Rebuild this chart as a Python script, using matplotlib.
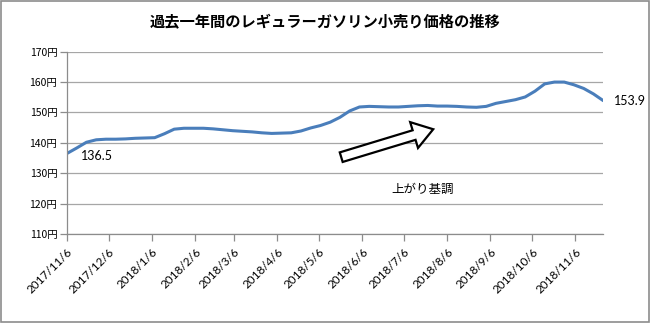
import matplotlib
matplotlib.use("Agg")
import matplotlib.pyplot as plt
import numpy as np
import pandas as pd
from matplotlib.patches import FancyArrowPatch, Rectangle

plt.rcParams['font.family'] = ['Noto Sans CJK JP', 'DejaVu Sans']

# weekly retail price of regular gasoline (yen / litre)
dates = pd.date_range('2017-11-06', periods=56, freq='7D')
prices = [136.5, 138.3, 140.2, 141.0, 141.2, 141.2, 141.3, 141.5, 141.6, 141.7,
          143.0, 144.5, 144.8, 144.8, 144.8, 144.6, 144.3, 144.0, 143.8, 143.6,
          143.3, 143.1, 143.2, 143.3, 143.9, 144.9, 145.7, 146.8, 148.4, 150.5,
          151.8, 152.0, 151.9, 151.8, 151.8, 152.0, 152.2, 152.3, 152.1, 152.1,
          152.0, 151.8, 151.7, 152.0, 153.0, 153.6, 154.2, 155.1, 157.0, 159.4,
          160.0, 160.0, 159.1, 157.9, 156.1, 153.9]

month_ticks = [pd.Timestamp('2017-11-06') + pd.DateOffset(months=i) for i in range(13)]
tick_labels = [f'{d.year}/{d.month}/{d.day}' for d in month_ticks]
y_ticks = list(range(110, 171, 10))

title = '過去一年間のレギュラーガソリン小売り価格の推移'
note = '上がり基調'

fig = plt.figure(figsize=(6.5, 3.23), dpi=100)
ax = fig.add_axes([0.103, 0.2755, 0.825, 0.5645])

ax.plot(dates, prices, color='#4a7ebb', lw=2.2, solid_capstyle='round')

ax.set_xlim(dates[0], dates[-1])
ax.set_ylim(110, 170)
ax.set_yticks(y_ticks)
ax.set_yticklabels([f'{v}円' for v in y_ticks], fontsize=7.5)
ax.set_xticks(month_ticks)
ax.set_xticklabels(tick_labels, rotation=45, ha='right', rotation_mode='anchor',
                   fontsize=8.5, family=['Lato', 'DejaVu Sans'])

ax.grid(axis='y', color='#a6a6a6', lw=0.9)
ax.set_axisbelow(True)
for side in ['top', 'right']:
    ax.spines[side].set_visible(False)
for side in ['left', 'bottom']:
    ax.spines[side].set_color('#8c8c8c')
    ax.spines[side].set_linewidth(0.9)
ax.tick_params(axis='both', colors='#8c8c8c', length=5, width=0.9, labelcolor='black')
ax.tick_params(axis='x', pad=4)
ax.tick_params(axis='y', pad=2)

# first / last values
ax.annotate(f'{prices[0]}', (dates[0], prices[0]), xytext=(10, -1.5),
            textcoords='offset points', fontsize=9, family=['Lato', 'DejaVu Sans'],
            va='center', ha='left')
ax.annotate(f'{prices[-1]}', (dates[-1], prices[-1]), xytext=(8, 0),
            textcoords='offset points', fontsize=9, family=['Lato', 'DejaVu Sans'],
            va='center', ha='left')

# trend arrow
arrow = FancyArrowPatch((0.5065, 0.417), (0.688, 0.579), transform=ax.transAxes,
                        arrowstyle='simple,head_length=2.0,head_width=2.7,tail_width=1.0',
                        mutation_scale=7.2, fc='white', ec='black', lw=1.6,
                        joinstyle='miter')
ax.add_patch(arrow)
ax.text(0.664, 0.247, note, transform=ax.transAxes, fontsize=9, ha='center', va='center')

fig.text(0.5, 0.932, title, fontsize=11, fontweight='bold', ha='center', va='center')

fig.patches.append(Rectangle((0.002, 0.003), 0.996, 0.994, transform=fig.transFigure,
                             fill=False, ec='#8c8c8c', lw=1.2))

fig.savefig('out.png', dpi=100)
